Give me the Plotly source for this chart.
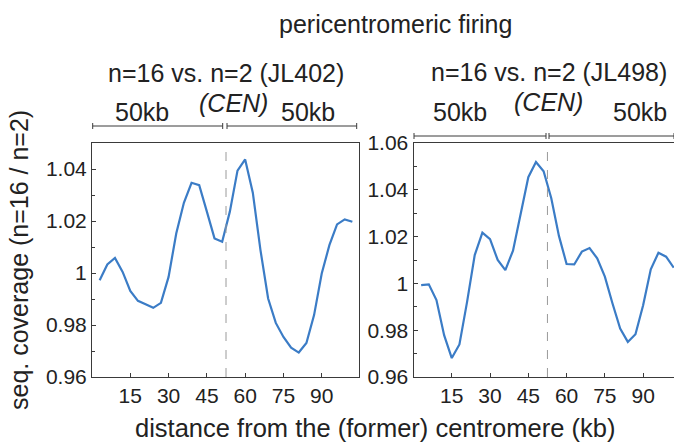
import plotly.graph_objects as go

# ---- data ----
pos_kb = [3, 6, 9, 12, 15, 18, 21, 24, 27, 30, 33, 36, 39, 42, 45, 48, 51,
          54, 57, 60, 63, 66, 69, 72, 75, 78, 81, 84, 87, 90, 93, 96, 99, 102]
cov_jl402 = [0.9972, 1.0033, 1.0058, 1.0004, 0.9931, 0.9893, 0.9880, 0.9866, 0.9885,
             0.9985, 1.0152, 1.0270, 1.0347, 1.0338, 1.0236, 1.0133, 1.0120,
             1.0236, 1.0394, 1.0437, 1.0309, 1.0088, 0.9902, 0.9808, 0.9754,
             0.9713, 0.9694, 0.9731, 0.9838, 0.9998, 1.0107, 1.0187, 1.0206, 1.0197]
cov_jl498 = [0.9993, 0.9996, 0.9929, 0.9779, 0.9681, 0.9739, 0.9921, 1.0121, 1.0217,
             1.0189, 1.0100, 1.0057, 1.0140, 1.0300, 1.0454, 1.0519, 1.0479,
             1.0364, 1.0203, 1.0083, 1.0081, 1.0136, 1.0151, 1.0107, 1.0029,
             0.9914, 0.9807, 0.9750, 0.9783, 0.9907, 1.0060, 1.0131, 1.0114, 1.0067]
cen_kb = 52.5
x_ticks = [15, 30, 45, 60, 75, 90]
y_ticks_left = [0.96, 0.98, 1.0, 1.02, 1.04]
y_text_left = ["0.96", "0.98", "1", "1.02", "1.04"]
y_ticks_right = [0.96, 0.98, 1.0, 1.02, 1.04, 1.06]
y_text_right = ["0.96", "0.98", "1", "1.02", "1.04", "1.06"]
titles = ["n=16 vs. n=2 (JL402)", "n=16 vs. n=2 (JL498)"]

W, H = 674, 446
def px(x):
    return x / W
def py(y):
    return 1 - y / H

LINE = "#3b7cc6"
AX = "#3a3a3a"
TXT = "#222222"
FONT = "Liberation Sans, Arial, sans-serif"

fig = go.Figure()
fig.add_trace(go.Scatter(x=pos_kb, y=cov_jl402, mode="lines",
                         line=dict(color=LINE, width=2.2), xaxis="x", yaxis="y",
                         showlegend=False))
fig.add_trace(go.Scatter(x=pos_kb, y=cov_jl498, mode="lines",
                         line=dict(color=LINE, width=2.2), xaxis="x2", yaxis="y2",
                         showlegend=False))

common_x = dict(tickvals=x_ticks, ticks="inside", ticklen=4, tickcolor=AX,
                showline=True, linecolor=AX, linewidth=1, mirror=True,
                showgrid=False, zeroline=False,
                tickfont=dict(size=21, color=TXT, family=FONT))
common_y = dict(ticks="inside", ticklen=4, tickcolor=AX,
                showline=True, linecolor=AX, linewidth=1,
                showgrid=False, zeroline=False,
                minor=dict(ticks="inside", ticklen=3, tick0=0.96, dtick=0.01, tickcolor=AX),
                tickfont=dict(size=21, color=TXT, family=FONT))

fig.update_layout(
    width=W, height=H, autosize=False,
    margin=dict(l=0, r=0, t=0, b=0, autoexpand=False),
    showlegend=False,
    paper_bgcolor="white", plot_bgcolor="white",
    xaxis=dict(domain=[px(92), px(359)], range=[0, 104.6], anchor="y", **common_x),
    yaxis=dict(domain=[py(377), py(143)], range=[0.96, 1.05], anchor="x",
               tickvals=y_ticks_left, ticktext=y_text_left, mirror=True, **common_y),
    xaxis2=dict(domain=[px(413.5), 1.0], range=[0, 102.1], anchor="y2", **common_x),
    yaxis2=dict(domain=[py(377), py(143)], range=[0.96, 1.06], anchor="x2",
                tickvals=y_ticks_right, ticktext=y_text_right, mirror=False, **common_y),
)

# centromere dashed lines
for xr, yr in (("x", "y domain"), ("x2", "y2 domain")):
    fig.add_shape(type="line", xref=xr, yref=yr, x0=cen_kb, x1=cen_kb, y0=0, y1=1,
                  line=dict(color="#9a9a9a", width=1, dash="dash"))

# scale bars (in pixel coords)
def bar(x0, x1, y):
    fig.add_shape(type="line", xref="paper", yref="paper", x0=px(x0), x1=px(x1),
                  y0=py(y), y1=py(y), line=dict(color=AX, width=1))
    for xx in (x0, x1):
        fig.add_shape(type="line", xref="paper", yref="paper", x0=px(xx), x1=px(xx),
                      y0=py(y - 3), y1=py(y + 3), line=dict(color=AX, width=1))

bar(92.7, 222.7, 126)
bar(227, 356.7, 126)
bar(414, 546, 136)
bar(549, 674, 136)

def txt(s, x, y, size=25, italic=False):
    fig.add_annotation(text=s, x=px(x), y=py(y), xref="paper", yref="paper",
                       xanchor="center", yanchor="middle", showarrow=False,
                       font=dict(size=size, color=TXT, family=FONT,
                                 style="italic" if italic else "normal"))

txt("pericentromeric firing", 395, 24)
txt(titles[0], 226, 73)
txt(titles[1], 549, 72)
txt("50kb", 142, 112)
txt("(CEN)", 233, 103, italic=True)
txt("50kb", 308, 112)
txt("50kb", 460, 112)
txt("(CEN)", 548, 102, italic=True)
txt("50kb", 640, 112)
txt("distance from the (former) centromere (kb)", 375, 428, size=25.5)
fig.add_annotation(text="seq. coverage (n=16 / n=2)", x=px(19), y=py(260),
                   xref="paper", yref="paper", xanchor="center", yanchor="middle",
                   showarrow=False, textangle=-90,
                   font=dict(size=25, color=TXT, family=FONT))

fig.write_html("out.html")
